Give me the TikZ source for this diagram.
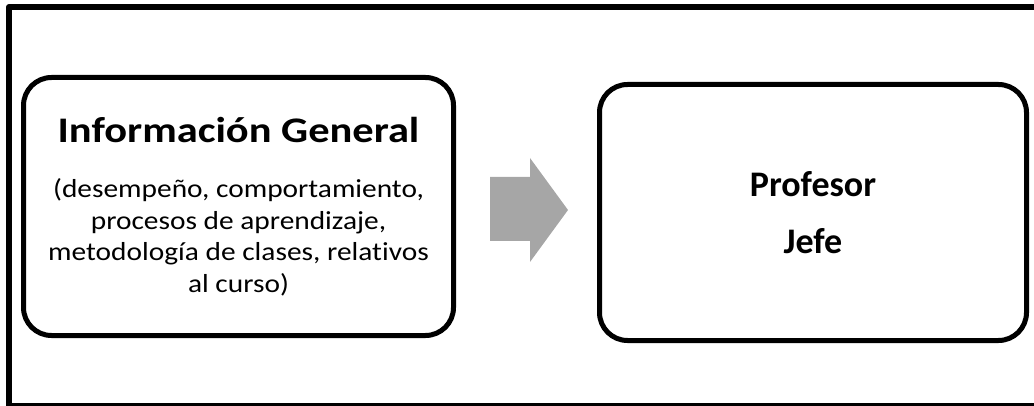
\documentclass[tikz,border=0pt]{standalone}
\usepackage{fontspec}
\setmainfont{Carlito}[RawFeature=-liga]
\newfontfamily\ancha[FakeStretch=1.13,RawFeature=-liga]{Carlito}
\newfontfamily\titular[FakeStretch=1.18,RawFeature=-liga]{Carlito}
\usetikzlibrary{positioning}
\definecolor{grisflecha}{HTML}{A6A6A6}
\tikzset{
  caja/.style={draw=black,line width=5pt,rounded corners=28pt,align=center,inner sep=0pt},
  marco/.style={line width=6pt,line cap=rect}
}
\begin{document}
\begin{tikzpicture}[x=1pt,y=-1pt,line join=round]
	\useasboundingbox (0,0) rectangle (1034,406);
	\clip (0,0) rectangle (1034,406);
	\draw[marco] (1045,7) -- (9,7) -- (9,406) -- (1045,406);
	\node[caja,minimum width=430pt,minimum height=258pt,font=\ancha\fontsize{26}{31.5}\selectfont] (info) at (238.5,206.5)
		{{\titular\fontsize{36}{44}\selectfont\bfseries Información General}\\[23.5pt]
		(desempeño, comportamiento,\\
		procesos de aprendizaje,\\
		metodología de clases, relativos\\
		al curso)};
	\node[caja,minimum width=427pt,minimum height=256pt,font=\fontsize{36}{57}\selectfont\bfseries] (jefe) at (813,212.5)
		{Profesor\\Jefe};
	\coordinate (punta) at (568,210);
	\fill[grisflecha] (490,177) -- (530,177) -- (530,158) -- (punta) -- (530,262) -- (530,241) -- (490,241) -- cycle;
\end{tikzpicture}
\end{document}
